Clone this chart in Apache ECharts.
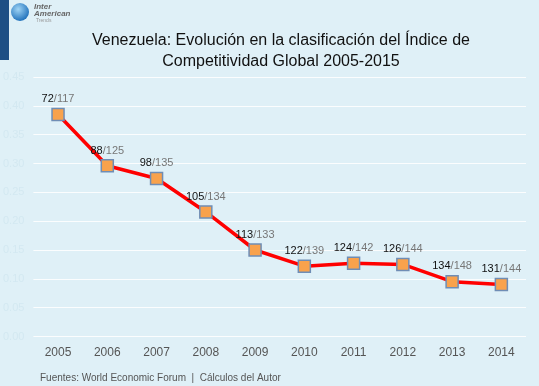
<!DOCTYPE html>
<html><head><meta charset="utf-8">
<script src="https://cdn.jsdelivr.net/npm/echarts@6/dist/echarts.min.js"></script>
<style>html,body{margin:0;padding:0;background:#dff0f7;}#c{width:539px;height:386px;}</style>
</head><body><div id="c"></div>
<script>
var years = ['2005','2006','2007','2008','2009','2010','2011','2012','2013','2014'];
var ranks = [72,88,98,105,113,122,124,126,134,131];
var totals = [117,125,135,134,133,139,142,144,148,144];
var values = [0.385,0.296,0.274,0.216,0.150,0.122,0.127,0.125,0.095,0.090];
var yTicks = ['0.00','0.05','0.10','0.15','0.20','0.25','0.30','0.35','0.40','0.45'];

var chart = echarts.init(document.getElementById('c'));
var data = values.map(function(v,i){return {value:v, label:{formatter:'{a|'+ranks[i]+'}{b|/'+totals[i]+'}'}};});
chart.setOption({
  backgroundColor:'#dff0f7',
  animation:false,
  title:{text:'Venezuela: Evolución en la clasificación del Índice de\nCompetitividad Global 2005-2015',
    left:276, top:25, textAlign:'center',
    textStyle:{fontFamily:'Liberation Sans, Arial',fontWeight:'normal',fontSize:16,color:'#111',lineHeight:21}},
  graphic:[
    {type:'rect',shape:{x:0,y:0,width:9,height:60},style:{fill:'#1d4f85'}},
    {type:'circle',shape:{cx:20,cy:12,r:9},style:{fill:{type:'radial',x:0.4,y:0.35,r:0.7,colorStops:[{offset:0,color:'#9fd4f5'},{offset:1,color:'#1a6cb8'}]}}},
    {type:'text',left:34,top:3,style:{text:'Inter',font:'italic bold 8px Liberation Sans',fill:'#666'}},
    {type:'text',left:34,top:10,style:{text:'American',font:'italic bold 8px Liberation Sans',fill:'#666'}},
    {type:'text',left:36,top:18,style:{text:'Trends',font:'5px Liberation Sans',fill:'#999'}},
    {type:'text',left:40,top:373,style:{text:'Fuentes: World Economic Forum  |  Cálculos del Autor',font:'10px Liberation Sans',fill:'#555'}}
  ],
  grid:{left:30,width:496,top:77,bottom:49.5,containLabel:false},
  xAxis:{type:'category',data:years,boundaryGap:true,
    axisLine:{show:false},axisTick:{show:false},
    axisLabel:{color:'#555',fontSize:12,fontFamily:'Liberation Sans',margin:10}},
  yAxis:{type:'value',min:0,max:0.45,interval:0.05,
    axisLine:{show:false},axisTick:{show:false},
    axisLabel:{color:'#d3e8f1',fontSize:11,fontFamily:'Liberation Sans',margin:9,
      formatter:function(v){return yTicks[Math.round(v/0.05)];}},
    splitLine:{lineStyle:{color:'#fbfdfe',width:1.2}}},
  series:[{type:'line',data:data,symbol:'rect',symbolSize:12,
    lineStyle:{color:'#ff0000',width:3.5},
    itemStyle:{color:'#f9a24c',borderColor:'#6f8db5',borderWidth:1.5},
    label:{show:true,position:'top',distance:3,
      rich:{a:{color:'#111',fontSize:11,fontFamily:'Liberation Sans'},b:{color:'#777',fontSize:11,fontFamily:'Liberation Sans'}}}}]
});
</script></body></html>
